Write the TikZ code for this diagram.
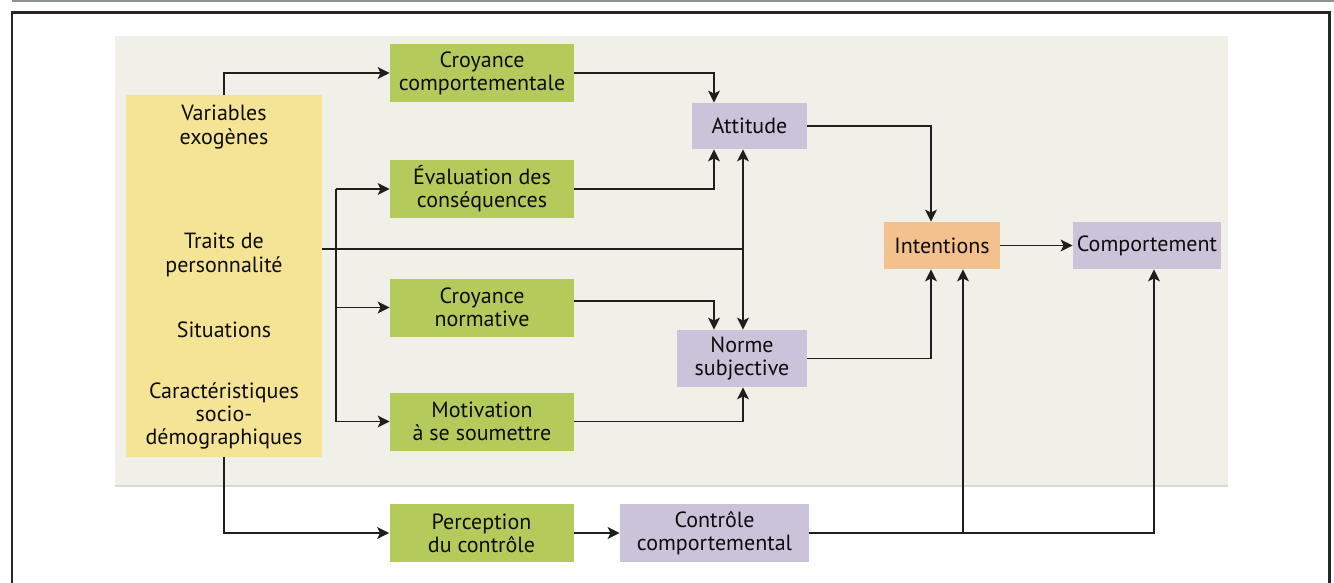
\documentclass[tikz,border=0pt]{standalone}
\usepackage{fontspec}
\setmainfont{PT Sans}
\usetikzlibrary{arrows.meta,calc}
\definecolor{panel}{RGB}{241,240,232}
\definecolor{boxyellow}{RGB}{246,228,150}
\definecolor{boxgreen}{RGB}{180,203,92}
\definecolor{boxpurple}{RGB}{203,195,218}
\definecolor{boxorange}{RGB}{242,193,142}
\definecolor{linec}{RGB}{30,30,30}
\definecolor{topgray}{RGB}{140,148,146}
\begin{document}
\begin{tikzpicture}[x=0.5pt,y=-0.5pt,
  txt/.style={inner sep=0pt, align=center, font=\fontsize{11}{11.6}\selectfont, text=black!95},
  gbox/.style={txt, fill=boxgreen, minimum width=92pt, minimum height=29pt},
  pbox/.style={txt, fill=boxpurple},
  arr/.style={draw=linec, line width=0.85pt, -{Stealth[length=6pt,width=6pt,inset=1.5pt]}},
  dbl/.style={draw=linec, line width=0.85pt, {Stealth[length=6pt,width=6pt,inset=1.5pt]}-{Stealth[length=6pt,width=6pt,inset=1.5pt]}},
  ln/.style={draw=linec, line width=0.85pt}]
\useasboundingbox (0,0) rectangle (1334,583);
% top gray rule and frame
\draw[topgray, line width=1pt] (12,0.8) -- (1334,0.8);
\draw[black!85, line width=1.2pt] (12,600) -- (12,12.5) -- (1329.5,12.5) -- (1329.5,600);
% panel
\fill[panel] (115,36) rectangle (1228,486);
\draw[black!15, line width=0.6pt] (115,486) -- (1228,486);
% exogenous box
\node[txt, fill=boxyellow, minimum width=98pt, minimum height=181pt] (exo) at (224,276) {};
\node[txt] (t1) at (224,127) {Variables\\exogènes};
\node[txt] (t2) at (224,255) {Traits de\\personnalité};
\node[txt, anchor=base] (t3) at (224,337) {Situations};
\node[txt] (t4) at (224,416) {Caractéristiques\\socio-\\démographiques};
% green boxes
\node[gbox] (cc) at (482,73) {Croyance\\comportementale};
\node[gbox] (ev) at (482,189) {Évaluation des\\conséquences};
\node[gbox] (cn) at (482,307.5) {Croyance\\normative};
\node[gbox] (mo) at (482,421.5) {Motivation\\à se soumettre};
\node[gbox] (pc) at (481.5,533) {Perception\\du contrôle};
% purple / orange boxes
\node[pbox, minimum width=57.5pt, minimum height=23pt] (att) at (749.5,126) {Attitude};
\node[pbox, minimum width=65pt, minimum height=28.5pt] (no) at (742,358.5) {Norme\\subjective};
\node[txt, fill=boxorange, minimum width=58pt, minimum height=23.5pt] (int) at (942,245.5) {Intentions};
\node[pbox, minimum width=74pt, minimum height=23.5pt] (comp) at (1147,245.5) {Comportement};
\node[pbox, minimum width=94.5pt, minimum height=29pt] (ctl) at (714.5,533) {Contrôle\\comportemental};
% helper coordinates
\coordinate (ca) at (714,0);
\coordinate (cb) at (743,0);
\coordinate (ci) at (931,0);
\coordinate (cj) at (963,0);
\coordinate (ck) at (1154,0);
\coordinate (br) at (336,249);
\coordinate (cy) at (0,301);
% connectors
\draw[arr] (exo.north) |- (cc.west);
\draw[arr] (exo.south) |- (pc.west);
\draw[ln] (br -| exo.east) -- (br -| cb);
\draw[ln] (br |- ev.west) -- (br |- mo.west);
\draw[arr] (br |- ev.west) -- (ev.west);
\draw[arr] (br |- cn.west) -- (cn.west);
\draw[arr] (br |- mo.west) -- (mo.west);
\draw[arr] (cc.east) -| (ca |- att.north);
\draw[arr] (ev.east) -| (ca |- att.south);
\draw[dbl] (cb |- att.south) -- (cb |- no.north);
\draw[arr] (cy -| cn.east) -| (ca |- no.north);
\draw[arr] (mo.east) -| (cb |- no.south);
\draw[arr] (att.east) -| (ci |- int.north);
\draw[arr] (no.east) -| (ci |- int.south);
\draw[arr] (int.east) -- (comp.west);
\draw[arr] (pc.east) -- (ctl.west);
\draw[arr] (ctl.east) -| (ck |- comp.south);
\draw[arr] (ctl.east -| cj) -- (cj |- int.south);
\end{tikzpicture}
\end{document}
